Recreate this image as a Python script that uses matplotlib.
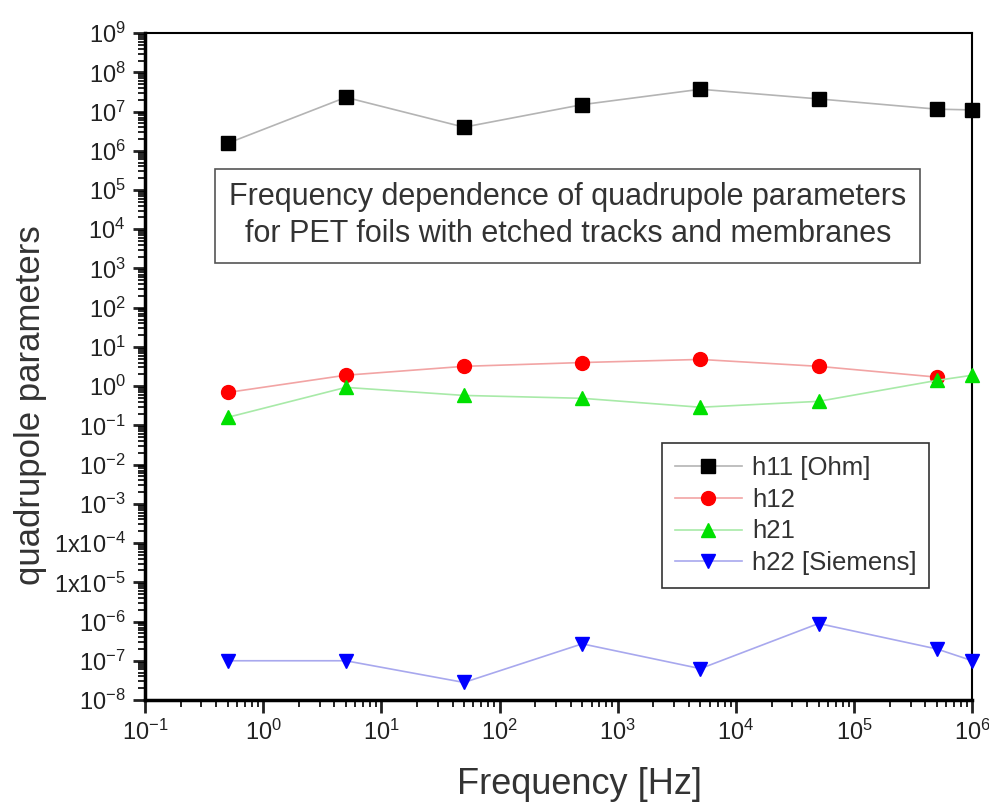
import matplotlib.pyplot as plt
import numpy as np
from matplotlib.ticker import LogLocator, FixedLocator, FuncFormatter, NullFormatter

plt.rcParams['font.family'] = ['Liberation Sans', 'DejaVu Sans']
plt.rcParams['mathtext.fontset'] = 'custom'
plt.rcParams['mathtext.rm'] = 'Liberation Sans'
plt.rcParams['mathtext.default'] = 'regular'
plt.rcParams['axes.unicode_minus'] = False

freq = [0.5, 5, 50, 500, 5000, 5e4, 5e5, 1e6]
h11 = [1.55e6, 2.3e7, 4.0e6, 1.5e7, 3.7e7, 2.1e7, 1.15e7, 1.1e7]
h12 = [0.69, 1.9, 3.2, 4.0, 4.8, 3.2, 1.7]
h21 = [0.16, 0.93, 0.58, 0.49, 0.29, 0.41, 1.4, 1.9]
h22 = [1.0e-7, 1.0e-7, 2.8e-8, 2.7e-7, 6.3e-8, 8.9e-7, 2.0e-7, 1.0e-7]

series = [
    ("h11 [Ohm]", h11, 's', 'black', '#b4b4b4'),
    ("h12", h12, 'o', 'red', '#f2a4a4'),
    ("h21", h21, '^', '#00e000', '#a8eaa8'),
    ("h22 [Siemens]", h22, 'v', 'blue', '#a8a8ee'),
]

fig = plt.figure(figsize=(9.89, 8.07), dpi=100)
ax = fig.add_axes([0.1466, 0.1326, 0.8366, 0.8264])

for name, vals, mk, mc, lc in series:
    ax.plot(freq[:len(vals)], vals, color=lc, lw=1.2, marker=mk, ms=10,
            mfc=mc, mec=mc, label=name, clip_on=False, zorder=3)

ax.set_xscale('log')
ax.set_yscale('log')
ax.set_xlim(0.1, 1e6)
ax.set_ylim(1e-8, 1e9)


def ylab(v, pos):
    e = int(round(np.log10(v)))
    if e in (-4, -5):
        return r'$1x10^{%d}$' % e
    return r'$10^{%d}$' % e


ax.yaxis.set_major_locator(FixedLocator([10.0 ** e for e in range(-8, 10)]))
ax.yaxis.set_major_formatter(FuncFormatter(ylab))
ax.yaxis.set_minor_locator(LogLocator(base=10, subs=np.arange(2, 10), numticks=40))
ax.yaxis.set_minor_formatter(NullFormatter())
ax.xaxis.set_major_locator(FixedLocator([10.0 ** e for e in range(-1, 7)]))
ax.xaxis.set_major_formatter(FuncFormatter(lambda v, p: r'$10^{%d}$' % int(round(np.log10(v)))))
ax.xaxis.set_minor_locator(LogLocator(base=10, subs=np.arange(2, 10), numticks=20))
ax.xaxis.set_minor_formatter(NullFormatter())

ax.tick_params(which='major', direction='out', length=9, width=2, labelsize=17, colors='#222222', pad=5)
ax.tick_params(which='minor', direction='out', length=5, width=1.2)
for s in ax.spines.values():
    s.set_linewidth(1.5)
ax.spines['left'].set_linewidth(2.5)
ax.spines['bottom'].set_linewidth(2.5)

ax.set_xlabel('Frequency [Hz]', fontsize=26, color='#333333')
ax.set_ylabel('quadrupole parameters', fontsize=25, color='#333333')
ax.xaxis.set_label_coords(0.525, -0.1)
ax.yaxis.set_label_coords(-0.118, 0.442)

ax.text(0.511, 0.726, 'Frequency dependence of quadrupole parameters\nfor PET foils with etched tracks and membranes',
        transform=ax.transAxes, ha='center', va='center', fontsize=22, color='#333333',
        linespacing=1.3,
        bbox=dict(boxstyle='square,pad=0.45', fc='white', ec='#555555', lw=1.2))

leg = ax.legend(loc='upper right', bbox_to_anchor=(0.948, 0.385), borderaxespad=0,
                fontsize=18.5, fancybox=False, edgecolor='#333333', framealpha=1,
                handlelength=2.6, borderpad=0.5, labelspacing=0.3, handletextpad=0.4)
leg.get_frame().set_linewidth(1.2)
for t in leg.get_texts():
    t.set_color('#333333')

fig.savefig('out.png', dpi=100)
